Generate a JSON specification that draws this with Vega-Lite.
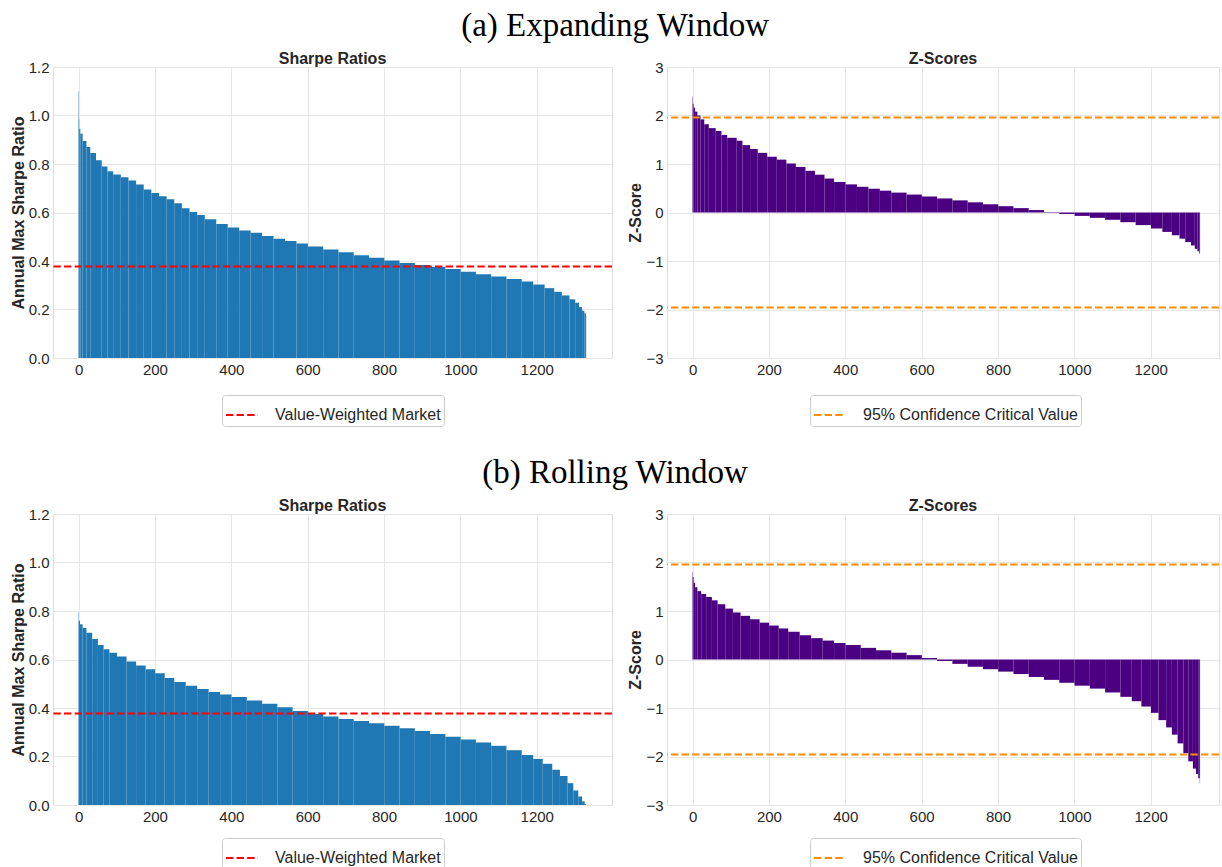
{
  "$schema": "https://vega.github.io/schema/vega-lite/v6.json",
  "padding": {"left": 9, "top": 9, "right": 0, "bottom": 0},
  "background": "white",
  "config": {
    "font": "Liberation Sans",
    "view": {"stroke": "#dedede", "strokeWidth": 1},
    "axis": {"grid": true, "gridColor": "#e6e6e6", "gridWidth": 1, "domain": false, "ticks": false, "labelFontSize": 15, "labelColor": "#262626", "labelPadding": 4, "titleFontSize": 16, "titleFontWeight": "bold", "titleColor": "#262626", "titlePadding": 2},
    "legend": {"orient": "none", "title": null, "strokeColor": "#cccccc", "fillColor": "white", "cornerRadius": 3, "padding": 3, "symbolType": "stroke", "symbolStrokeWidth": 2, "symbolDash": [7.4, 3.2], "symbolSize": 1024, "labelFontSize": 16, "labelColor": "#262626", "labelOffset": 16, "labelLimit": 400, "legendY": 328}
  },
  "datasets": {
    "ea": [
      {"x": -0.4, "x2": 0.6, "v": 1.10}, {"x": 0.6, "x2": 1.6, "v": 0.985}, {"x": 1.6, "x2": 4.6, "v": 0.945}, {"x": 4.6, "x2": 10.6, "v": 0.925},
      {"x": 10.6, "x2": 20.6, "v": 0.895}, {"x": 20.6, "x2": 30.6, "v": 0.87}, {"x": 30.6, "x2": 45.6, "v": 0.845}, {"x": 45.6, "x2": 60.6, "v": 0.815},
      {"x": 60.6, "x2": 75.6, "v": 0.79}, {"x": 75.6, "x2": 90.6, "v": 0.77}, {"x": 90.6, "x2": 110.6, "v": 0.757}, {"x": 110.6, "x2": 130.6, "v": 0.745},
      {"x": 130.6, "x2": 150.6, "v": 0.732}, {"x": 150.6, "x2": 170.6, "v": 0.715}, {"x": 170.6, "x2": 190.6, "v": 0.695}, {"x": 190.6, "x2": 210.6, "v": 0.68},
      {"x": 210.6, "x2": 230.6, "v": 0.667}, {"x": 230.6, "x2": 250.6, "v": 0.655}, {"x": 250.6, "x2": 270.6, "v": 0.638}, {"x": 270.6, "x2": 290.6, "v": 0.618},
      {"x": 290.6, "x2": 310.6, "v": 0.602}, {"x": 310.6, "x2": 330.6, "v": 0.59}, {"x": 330.6, "x2": 360.6, "v": 0.572}, {"x": 360.6, "x2": 390.6, "v": 0.553},
      {"x": 390.6, "x2": 420.6, "v": 0.538}, {"x": 420.6, "x2": 450.6, "v": 0.526}, {"x": 450.6, "x2": 480.6, "v": 0.516}, {"x": 480.6, "x2": 510.6, "v": 0.503},
      {"x": 510.6, "x2": 540.6, "v": 0.492}, {"x": 540.6, "x2": 570.6, "v": 0.482}, {"x": 570.6, "x2": 600.6, "v": 0.472}, {"x": 600.6, "x2": 640.6, "v": 0.46},
      {"x": 640.6, "x2": 680.6, "v": 0.447}, {"x": 680.6, "x2": 720.6, "v": 0.436}, {"x": 720.6, "x2": 760.6, "v": 0.424}, {"x": 760.6, "x2": 800.6, "v": 0.413},
      {"x": 800.6, "x2": 840.6, "v": 0.402}, {"x": 840.6, "x2": 880.6, "v": 0.392}, {"x": 880.6, "x2": 920.6, "v": 0.383}, {"x": 920.6, "x2": 960.6, "v": 0.375},
      {"x": 960.6, "x2": 1000.6, "v": 0.367}, {"x": 1000.6, "x2": 1040.6, "v": 0.356}, {"x": 1040.6, "x2": 1080.6, "v": 0.345}, {"x": 1080.6, "x2": 1120.6, "v": 0.336},
      {"x": 1120.6, "x2": 1160.6, "v": 0.326}, {"x": 1160.6, "x2": 1190.6, "v": 0.315}, {"x": 1190.6, "x2": 1220.6, "v": 0.303}, {"x": 1220.6, "x2": 1245.6, "v": 0.288},
      {"x": 1245.6, "x2": 1265.6, "v": 0.273}, {"x": 1265.6, "x2": 1285.6, "v": 0.258}, {"x": 1285.6, "x2": 1300.6, "v": 0.242}, {"x": 1300.6, "x2": 1310.6, "v": 0.228},
      {"x": 1310.6, "x2": 1318.6, "v": 0.21}, {"x": 1318.6, "x2": 1324.6, "v": 0.195}, {"x": 1324.6, "x2": 1328.6, "v": 0.185}, {"x": 1328.6, "x2": 1329.4, "v": 0.175}
    ],
    "ez": [
      {"x": -0.4, "x2": 0.6, "v": 2.39}, {"x": 0.6, "x2": 2.6, "v": 2.24}, {"x": 2.6, "x2": 6.6, "v": 2.16}, {"x": 6.6, "x2": 12.6, "v": 2.08},
      {"x": 12.6, "x2": 20.6, "v": 2.0}, {"x": 20.6, "x2": 30.6, "v": 1.92}, {"x": 30.6, "x2": 42.6, "v": 1.82}, {"x": 42.6, "x2": 60.6, "v": 1.74},
      {"x": 60.6, "x2": 75.6, "v": 1.68}, {"x": 75.6, "x2": 90.6, "v": 1.6}, {"x": 90.6, "x2": 115.6, "v": 1.54}, {"x": 115.6, "x2": 130.6, "v": 1.48},
      {"x": 130.6, "x2": 150.6, "v": 1.39}, {"x": 150.6, "x2": 170.6, "v": 1.31}, {"x": 170.6, "x2": 195.6, "v": 1.23}, {"x": 195.6, "x2": 220.6, "v": 1.15},
      {"x": 220.6, "x2": 245.6, "v": 1.09}, {"x": 245.6, "x2": 270.6, "v": 1.01}, {"x": 270.6, "x2": 295.6, "v": 0.94}, {"x": 295.6, "x2": 320.6, "v": 0.86},
      {"x": 320.6, "x2": 345.6, "v": 0.78}, {"x": 345.6, "x2": 370.6, "v": 0.7}, {"x": 370.6, "x2": 400.6, "v": 0.63}, {"x": 400.6, "x2": 430.6, "v": 0.58},
      {"x": 430.6, "x2": 460.6, "v": 0.53}, {"x": 460.6, "x2": 490.6, "v": 0.49}, {"x": 490.6, "x2": 520.6, "v": 0.45}, {"x": 520.6, "x2": 560.6, "v": 0.41},
      {"x": 560.6, "x2": 600.6, "v": 0.37}, {"x": 600.6, "x2": 640.6, "v": 0.33}, {"x": 640.6, "x2": 680.6, "v": 0.29}, {"x": 680.6, "x2": 720.6, "v": 0.25},
      {"x": 720.6, "x2": 760.6, "v": 0.21}, {"x": 760.6, "x2": 800.6, "v": 0.17}, {"x": 800.6, "x2": 840.6, "v": 0.13}, {"x": 840.6, "x2": 880.6, "v": 0.09},
      {"x": 880.6, "x2": 920.6, "v": 0.05}, {"x": 920.6, "x2": 960.6, "v": 0.01}, {"x": 960.6, "x2": 1000.6, "v": -0.03}, {"x": 1000.6, "x2": 1040.6, "v": -0.07},
      {"x": 1040.6, "x2": 1080.6, "v": -0.11}, {"x": 1080.6, "x2": 1120.6, "v": -0.15}, {"x": 1120.6, "x2": 1160.6, "v": -0.2}, {"x": 1160.6, "x2": 1200.6, "v": -0.26},
      {"x": 1200.6, "x2": 1230.6, "v": -0.33}, {"x": 1230.6, "x2": 1255.6, "v": -0.4}, {"x": 1255.6, "x2": 1275.6, "v": -0.47}, {"x": 1275.6, "x2": 1290.6, "v": -0.54},
      {"x": 1290.6, "x2": 1305.6, "v": -0.61}, {"x": 1305.6, "x2": 1315.6, "v": -0.68}, {"x": 1315.6, "x2": 1322.6, "v": -0.75}, {"x": 1322.6, "x2": 1327.6, "v": -0.8},
      {"x": 1327.6, "x2": 1329.4, "v": -0.85}
    ],
    "rs": [
      {"x": -0.4, "x2": 0.6, "v": 0.795}, {"x": 0.6, "x2": 3.6, "v": 0.76}, {"x": 3.6, "x2": 10.6, "v": 0.745}, {"x": 10.6, "x2": 20.6, "v": 0.73},
      {"x": 20.6, "x2": 35.6, "v": 0.71}, {"x": 35.6, "x2": 50.6, "v": 0.685}, {"x": 50.6, "x2": 65.6, "v": 0.66}, {"x": 65.6, "x2": 80.6, "v": 0.642},
      {"x": 80.6, "x2": 100.6, "v": 0.628}, {"x": 100.6, "x2": 125.6, "v": 0.612}, {"x": 125.6, "x2": 150.6, "v": 0.592}, {"x": 150.6, "x2": 175.6, "v": 0.575},
      {"x": 175.6, "x2": 200.6, "v": 0.56}, {"x": 200.6, "x2": 225.6, "v": 0.543}, {"x": 225.6, "x2": 250.6, "v": 0.524}, {"x": 250.6, "x2": 280.6, "v": 0.507},
      {"x": 280.6, "x2": 310.6, "v": 0.492}, {"x": 310.6, "x2": 340.6, "v": 0.478}, {"x": 340.6, "x2": 370.6, "v": 0.466}, {"x": 370.6, "x2": 400.6, "v": 0.456},
      {"x": 400.6, "x2": 440.6, "v": 0.445}, {"x": 440.6, "x2": 480.6, "v": 0.431}, {"x": 480.6, "x2": 520.6, "v": 0.418}, {"x": 520.6, "x2": 560.6, "v": 0.403},
      {"x": 560.6, "x2": 600.6, "v": 0.388}, {"x": 600.6, "x2": 640.6, "v": 0.375}, {"x": 640.6, "x2": 680.6, "v": 0.365}, {"x": 680.6, "x2": 720.6, "v": 0.355},
      {"x": 720.6, "x2": 760.6, "v": 0.346}, {"x": 760.6, "x2": 800.6, "v": 0.337}, {"x": 800.6, "x2": 840.6, "v": 0.327}, {"x": 840.6, "x2": 880.6, "v": 0.316},
      {"x": 880.6, "x2": 920.6, "v": 0.305}, {"x": 920.6, "x2": 960.6, "v": 0.293}, {"x": 960.6, "x2": 1000.6, "v": 0.281}, {"x": 1000.6, "x2": 1040.6, "v": 0.27},
      {"x": 1040.6, "x2": 1080.6, "v": 0.258}, {"x": 1080.6, "x2": 1120.6, "v": 0.244}, {"x": 1120.6, "x2": 1160.6, "v": 0.226}, {"x": 1160.6, "x2": 1190.6, "v": 0.206},
      {"x": 1190.6, "x2": 1215.6, "v": 0.19}, {"x": 1215.6, "x2": 1240.6, "v": 0.17}, {"x": 1240.6, "x2": 1260.6, "v": 0.145}, {"x": 1260.6, "x2": 1280.6, "v": 0.12},
      {"x": 1280.6, "x2": 1295.6, "v": 0.09}, {"x": 1295.6, "x2": 1308.6, "v": 0.06}, {"x": 1308.6, "x2": 1318.6, "v": 0.035}, {"x": 1318.6, "x2": 1325.6, "v": 0.015},
      {"x": 1325.6, "x2": 1329.4, "v": 0.004}
    ],
    "rz": [
      {"x": -0.4, "x2": 0.6, "v": 1.81}, {"x": 0.6, "x2": 2.6, "v": 1.7}, {"x": 2.6, "x2": 6.6, "v": 1.58}, {"x": 6.6, "x2": 12.6, "v": 1.49},
      {"x": 12.6, "x2": 22.6, "v": 1.41}, {"x": 22.6, "x2": 35.6, "v": 1.35}, {"x": 35.6, "x2": 50.6, "v": 1.29}, {"x": 50.6, "x2": 65.6, "v": 1.22},
      {"x": 65.6, "x2": 85.6, "v": 1.14}, {"x": 85.6, "x2": 105.6, "v": 1.05}, {"x": 105.6, "x2": 125.6, "v": 0.97}, {"x": 125.6, "x2": 150.6, "v": 0.9},
      {"x": 150.6, "x2": 175.6, "v": 0.83}, {"x": 175.6, "x2": 200.6, "v": 0.76}, {"x": 200.6, "x2": 225.6, "v": 0.7}, {"x": 225.6, "x2": 250.6, "v": 0.64},
      {"x": 250.6, "x2": 280.6, "v": 0.57}, {"x": 280.6, "x2": 310.6, "v": 0.5}, {"x": 310.6, "x2": 340.6, "v": 0.44}, {"x": 340.6, "x2": 370.6, "v": 0.39},
      {"x": 370.6, "x2": 400.6, "v": 0.34}, {"x": 400.6, "x2": 440.6, "v": 0.3}, {"x": 440.6, "x2": 480.6, "v": 0.24}, {"x": 480.6, "x2": 520.6, "v": 0.19},
      {"x": 520.6, "x2": 560.6, "v": 0.14}, {"x": 560.6, "x2": 600.6, "v": 0.09}, {"x": 600.6, "x2": 640.6, "v": 0.03}, {"x": 640.6, "x2": 680.6, "v": -0.03},
      {"x": 680.6, "x2": 720.6, "v": -0.09}, {"x": 720.6, "x2": 760.6, "v": -0.15}, {"x": 760.6, "x2": 800.6, "v": -0.2}, {"x": 800.6, "x2": 840.6, "v": -0.25},
      {"x": 840.6, "x2": 880.6, "v": -0.3}, {"x": 880.6, "x2": 920.6, "v": -0.36}, {"x": 920.6, "x2": 960.6, "v": -0.42}, {"x": 960.6, "x2": 1000.6, "v": -0.48},
      {"x": 1000.6, "x2": 1040.6, "v": -0.54}, {"x": 1040.6, "x2": 1080.6, "v": -0.6}, {"x": 1080.6, "x2": 1120.6, "v": -0.68}, {"x": 1120.6, "x2": 1150.6, "v": -0.77},
      {"x": 1150.6, "x2": 1175.6, "v": -0.86}, {"x": 1175.6, "x2": 1200.6, "v": -0.97}, {"x": 1200.6, "x2": 1220.6, "v": -1.1}, {"x": 1220.6, "x2": 1240.6, "v": -1.25},
      {"x": 1240.6, "x2": 1255.6, "v": -1.4}, {"x": 1255.6, "x2": 1270.6, "v": -1.55}, {"x": 1270.6, "x2": 1285.6, "v": -1.73}, {"x": 1285.6, "x2": 1298.6, "v": -1.93},
      {"x": 1298.6, "x2": 1310.6, "v": -2.1}, {"x": 1310.6, "x2": 1318.6, "v": -2.25}, {"x": 1318.6, "x2": 1324.6, "v": -2.36}, {"x": 1324.6, "x2": 1328.6, "v": -2.45},
      {"x": 1328.6, "x2": 1329.4, "v": -2.55}
    ]
  },
  "spacing": 29,
  "resolve": {"scale": {"color": "independent"}, "legend": {"color": "independent"}},
  "vconcat": [
    {
      "title": {"text": "(a) Expanding Window", "font": "Liberation Serif", "fontSize": 33, "fontWeight": "normal", "color": "black", "anchor": "middle", "offset": 8},
      "spacing": 13,
      "resolve": {"scale": {"color": "independent"}, "legend": {"color": "independent"}},
      "hconcat": [
        {
          "width": 559, "height": 291,
          "title": {"text": "Sharpe Ratios", "fontSize": 16, "fontWeight": "bold", "color": "#262626", "offset": -7},
          "layer": [
            {
              "data": {"name": "ea"},
              "mark": {"type": "bar", "color": "#1f77b4"},
              "encoding": {
                "x": {"field": "x", "type": "quantitative", "scale": {"domain": [-67, 1397], "nice": false, "zero": false}, "axis": {"values": [0, 200, 400, 600, 800, 1000, 1200], "format": "d", "title": null}},
                "x2": {"field": "x2"},
                "y": {"field": "v", "type": "quantitative", "scale": {"domain": [0, 1.2], "nice": false}, "axis": {"values": [0, 0.2, 0.4, 0.6, 0.8, 1.0, 1.2], "format": ".1f", "title": "Annual Max Sharpe Ratio"}},
                "y2": {"datum": 0}
              }
            },
            {
              "data": {"values": [{"label": "Value-Weighted Market", "y": 0.377}]},
              "mark": {"type": "rule", "strokeDash": [7.4, 3.2], "strokeWidth": 2},
              "encoding": {
                "y": {"field": "y", "type": "quantitative"},
                "color": {"field": "label", "type": "nominal", "scale": {"range": ["#ff0000"]}, "legend": {"legendX": 169}}
              }
            }
          ]
        },
        {
          "width": 552, "height": 291,
          "title": {"text": "Z-Scores", "fontSize": 16, "fontWeight": "bold", "color": "#262626", "offset": -7},
          "layer": [
            {
              "data": {"name": "ez"},
              "mark": {"type": "bar", "color": "#4b0082"},
              "encoding": {
                "x": {"field": "x", "type": "quantitative", "scale": {"domain": [-67, 1379], "nice": false, "zero": false}, "axis": {"values": [0, 200, 400, 600, 800, 1000, 1200], "format": "d", "title": null}},
                "x2": {"field": "x2"},
                "y": {"field": "v", "type": "quantitative", "scale": {"domain": [-3, 3], "nice": false}, "axis": {"values": [-3, -2, -1, 0, 1, 2, 3], "format": "d", "title": "Z-Score"}},
                "y2": {"datum": 0}
              }
            },
            {
              "data": {"values": [{"label": "95% Confidence Critical Value", "y": 1.96}, {"label": "95% Confidence Critical Value", "y": -1.96}]},
              "mark": {"type": "rule", "strokeDash": [7.4, 3.2], "strokeWidth": 2},
              "encoding": {
                "y": {"field": "y", "type": "quantitative"},
                "color": {"field": "label", "type": "nominal", "scale": {"range": ["#ff8c00"]}, "legend": {"legendX": 143}}
              }
            }
          ]
        }
      ]
    },
    {
      "title": {"text": "(b) Rolling Window", "font": "Liberation Serif", "fontSize": 33, "fontWeight": "normal", "color": "black", "anchor": "middle", "offset": 8},
      "spacing": 13,
      "resolve": {"scale": {"color": "independent"}, "legend": {"color": "independent"}},
      "hconcat": [
        {
          "width": 559, "height": 291,
          "title": {"text": "Sharpe Ratios", "fontSize": 16, "fontWeight": "bold", "color": "#262626", "offset": -7},
          "layer": [
            {
              "data": {"name": "rs"},
              "mark": {"type": "bar", "color": "#1f77b4"},
              "encoding": {
                "x": {"field": "x", "type": "quantitative", "scale": {"domain": [-67, 1397], "nice": false, "zero": false}, "axis": {"values": [0, 200, 400, 600, 800, 1000, 1200], "format": "d", "title": null}},
                "x2": {"field": "x2"},
                "y": {"field": "v", "type": "quantitative", "scale": {"domain": [0, 1.2], "nice": false}, "axis": {"values": [0, 0.2, 0.4, 0.6, 0.8, 1.0, 1.2], "format": ".1f", "title": "Annual Max Sharpe Ratio"}},
                "y2": {"datum": 0}
              }
            },
            {
              "data": {"values": [{"label": "Value-Weighted Market", "y": 0.377}]},
              "mark": {"type": "rule", "strokeDash": [7.4, 3.2], "strokeWidth": 2},
              "encoding": {
                "y": {"field": "y", "type": "quantitative"},
                "color": {"field": "label", "type": "nominal", "scale": {"range": ["#ff0000"]}, "legend": {"legendX": 169, "legendY": 324}}
              }
            }
          ]
        },
        {
          "width": 552, "height": 291,
          "title": {"text": "Z-Scores", "fontSize": 16, "fontWeight": "bold", "color": "#262626", "offset": -7},
          "layer": [
            {
              "data": {"name": "rz"},
              "mark": {"type": "bar", "color": "#4b0082"},
              "encoding": {
                "x": {"field": "x", "type": "quantitative", "scale": {"domain": [-67, 1379], "nice": false, "zero": false}, "axis": {"values": [0, 200, 400, 600, 800, 1000, 1200], "format": "d", "title": null}},
                "x2": {"field": "x2"},
                "y": {"field": "v", "type": "quantitative", "scale": {"domain": [-3, 3], "nice": false}, "axis": {"values": [-3, -2, -1, 0, 1, 2, 3], "format": "d", "title": "Z-Score"}},
                "y2": {"datum": 0}
              }
            },
            {
              "data": {"values": [{"label": "95% Confidence Critical Value", "y": 1.96}, {"label": "95% Confidence Critical Value", "y": -1.96}]},
              "mark": {"type": "rule", "strokeDash": [7.4, 3.2], "strokeWidth": 2},
              "encoding": {
                "y": {"field": "y", "type": "quantitative"},
                "color": {"field": "label", "type": "nominal", "scale": {"range": ["#ff8c00"]}, "legend": {"legendX": 143, "legendY": 324}}
              }
            }
          ]
        }
      ]
    }
  ]
}
